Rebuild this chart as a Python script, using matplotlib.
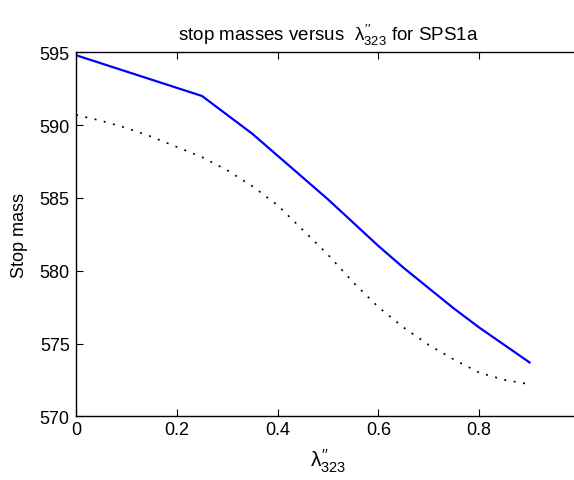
import numpy as np
import matplotlib
matplotlib.use("Agg")
import matplotlib.pyplot as plt

plt.rcParams['font.family'] = ['Liberation Sans', 'DejaVu Sans']
plt.rcParams['mathtext.fontset'] = 'custom'
plt.rcParams['mathtext.rm'] = 'Liberation Sans'
plt.rcParams['mathtext.it'] = 'Liberation Sans'

# stop masses
lam_blue = [0.0, 0.25, 0.35, 0.4, 0.45, 0.5, 0.55, 0.6, 0.65, 0.7, 0.75, 0.8, 0.85, 0.9]
m_blue = [594.8, 592.0, 589.4, 587.9, 586.4, 584.9, 583.3, 581.7, 580.2, 578.8,
          577.4, 576.1, 574.9, 573.7]

lam_dot = [0.0, 0.05, 0.1, 0.15, 0.2, 0.25, 0.3, 0.35, 0.4, 0.45, 0.5, 0.55,
           0.6, 0.65, 0.7, 0.75, 0.8, 0.85, 0.9]
m_dot = [590.7, 590.3, 589.8, 589.2, 588.5, 587.8, 586.9, 585.8, 584.5, 582.8,
         581.1, 579.2, 577.5, 576.1, 574.9, 573.9, 573.0, 572.5, 572.2]

xticks = [0, 0.2, 0.4, 0.6, 0.8]
yticks = [570, 575, 580, 585, 590, 595]

fig = plt.figure(figsize=(5.74, 4.81), dpi=100)
# right edge of the axes sits just outside the picture, as in the reference
ax = fig.add_axes([0.1324, 0.1324, 0.878, 0.7568])

ax.plot(lam_blue, m_blue, color='#0000ff', lw=1.6)
ax.plot(lam_dot, m_dot, color='black', lw=1.2, dashes=(1.2, 4.5))

ax.set_xlim(0, 1)
ax.set_ylim(570, 595)
ax.set_xticks(xticks)
ax.set_xticklabels(['0', '0.2', '0.4', '0.6', '0.8'])
ax.set_yticks(yticks)
ax.tick_params(direction='in', top=True, right=False, labelsize=13, length=5, width=0.8)
ax.tick_params(axis='y', pad=4.5)
for s in ax.spines.values():
    s.set_linewidth(1.0)

ax.set_title(r'stop masses versus  $\lambda^{\prime\prime}_{323}$ for SPS1a', fontsize=13.5, pad=9)
ax.set_xlabel(r'$\lambda^{\prime\prime}_{323}$', fontsize=15, labelpad=6)
ax.set_ylabel('Stop mass', fontsize=13, labelpad=8)

fig.savefig('out.png', dpi=100)
